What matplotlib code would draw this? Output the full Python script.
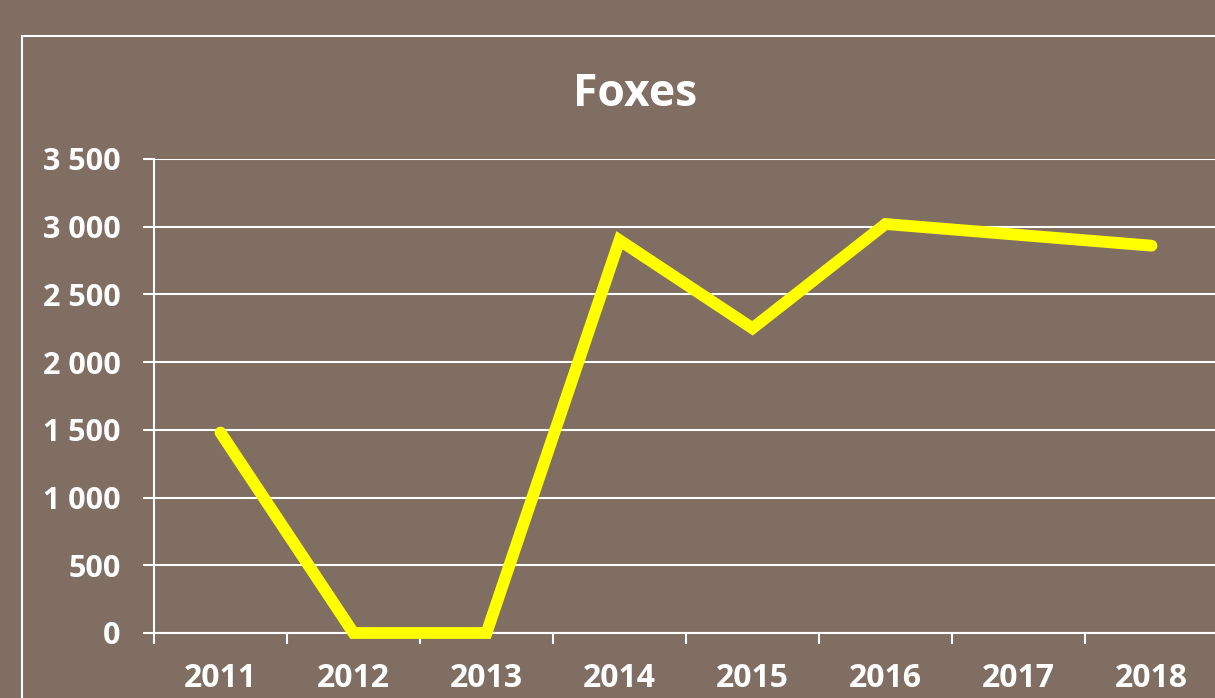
import matplotlib
matplotlib.use("Agg")
import matplotlib.pyplot as plt
from matplotlib.patches import Rectangle
from matplotlib.ticker import FuncFormatter, MultipleLocator, FixedLocator

years = ["2011", "2012", "2013", "2014", "2015", "2016", "2017", "2018"]
foxes = [1480, 0, 0, 2900, 2250, 3020, 2940, 2860]

bg = "#7f6e61"
plt.rcParams['font.family'] = ['Open Sans', 'DejaVu Sans']

fig = plt.figure(figsize=(12.15, 6.98), dpi=100)
fig.patch.set_facecolor(bg)

# outer chart border, runs off the right and bottom edge
fig.patches.append(Rectangle((22 / 1215, -0.05), 1.2, 1 - 36 / 698 + 0.05,
                             transform=fig.transFigure, fill=False,
                             edgecolor="white", linewidth=1.5))

ax = fig.add_axes([154 / 1215, 65 / 698, 1064 / 1215, 474 / 698])
ax.set_facecolor(bg)

x = range(len(years))
ax.plot(x, foxes, color="#ffff00", linewidth=8.5, solid_capstyle="round",
        solid_joinstyle="miter", zorder=3, clip_on=False)

ax.set_xlim(-0.5, len(years) - 0.5)
ax.set_ylim(0, 3500)
ax.yaxis.set_major_locator(MultipleLocator(500))
ax.yaxis.set_major_formatter(FuncFormatter(lambda v, p: f"{int(v):,}".replace(",", " ")))
ax.grid(axis="y", color="white", linewidth=1.5)
ax.set_axisbelow(True)

ax.set_xticks(list(x))
ax.set_xticklabels(years)
ax.xaxis.set_minor_locator(FixedLocator([i - 0.5 for i in range(len(years) + 1)]))
ax.tick_params(axis="x", which="major", length=0, pad=21, labelsize=23, labelcolor="white")
ax.tick_params(axis="x", which="minor", length=8, width=1.5, color="white", direction="out")
ax.tick_params(axis="y", length=8, width=1.5, color="white", pad=16,
               labelsize=22, labelcolor="white")
for lab in ax.get_xticklabels() + ax.get_yticklabels():
    lab.set_fontweight("bold")

for s in ["top", "right"]:
    ax.spines[s].set_visible(False)
for s in ["left", "bottom"]:
    ax.spines[s].set_color("white")
    ax.spines[s].set_linewidth(1.5)

fig.text(635 / 1215, 1 - 94 / 698, "Foxes", ha="center", va="center",
         fontsize=32, fontweight="bold", color="white")

fig.savefig("out.png", dpi=100, facecolor=bg)
